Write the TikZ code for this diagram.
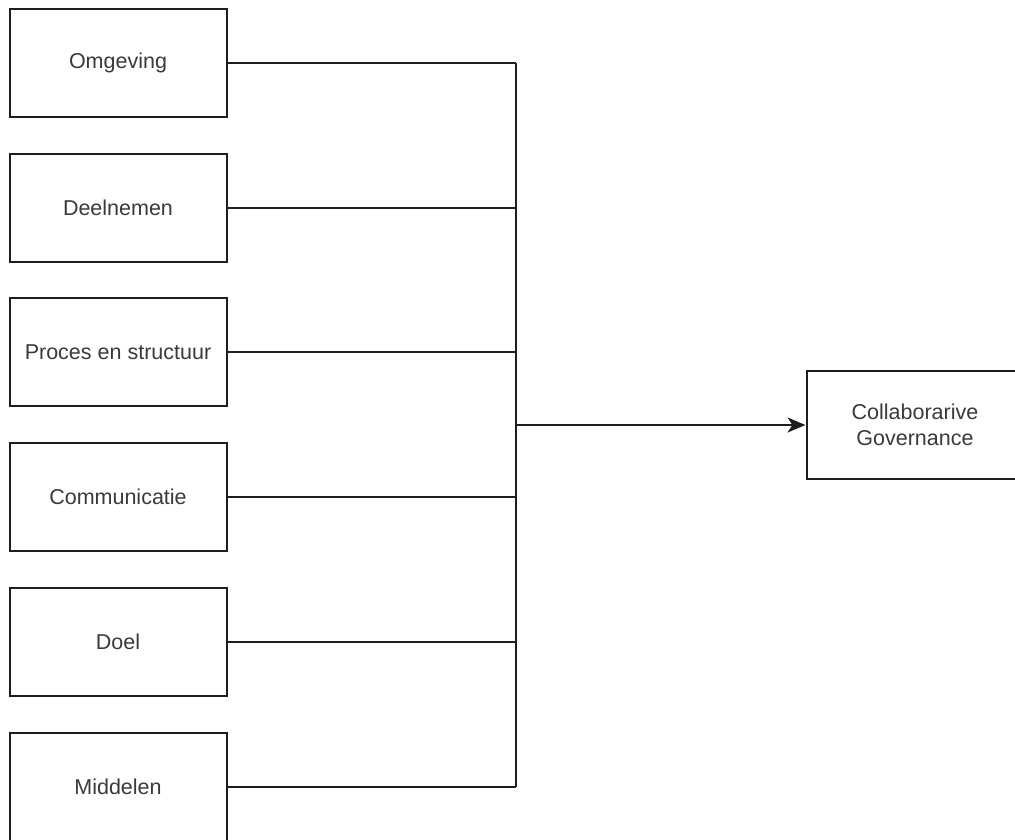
\documentclass[tikz,border=0pt]{standalone}
\usepackage{fontspec}
\setmainfont{Liberation Sans}
\usetikzlibrary{arrows.meta}
\definecolor{edge}{HTML}{1E1E1E}
\definecolor{txt}{HTML}{3A3A3A}
\begin{document}
\begin{tikzpicture}[x=1pt,y=-1pt,
  factor/.style={draw=edge, line width=2pt, minimum width=217pt, minimum height=108pt,
    inner sep=0pt, text=txt, font=\fontsize{21.5}{26}\selectfont, align=center, fill=white},
  link/.style={draw=edge, line width=2pt}]
\useasboundingbox (0,0) rectangle (1015,839);
\node[factor] (b1) at (118,63) {Omgeving};
\node[factor] (b2) at (118,208) {Deelnemen};
\node[factor] (b3) at (118,352) {Proces en structuur};
\node[factor] (b4) at (118,497) {Communicatie};
\node[factor] (b5) at (118,642) {Doel};
\node[factor] (b6) at (118,787) {Middelen};
\node[factor] (cg) at (915,425) {Collaborarive\\Governance};
\coordinate (j1) at (516,63);
\coordinate (j2) at (516,208);
\coordinate (j3) at (516,352);
\coordinate (j4) at (516,497);
\coordinate (j5) at (516,642);
\coordinate (j6) at (516,787);
\coordinate (jm) at (516,425);
\draw[link] (b1.east) -- (j1);
\draw[link] (b2.east) -- (j2);
\draw[link] (b3.east) -- (j3);
\draw[link] (b4.east) -- (j4);
\draw[link] (b5.east) -- (j5);
\draw[link] (b6.east) -- (j6);
\draw[link] (j1) -- (j6);
\draw[link, -{Stealth[length=18pt,width=15pt,inset=5pt]}] (jm) -- (cg.west);
\end{tikzpicture}
\end{document}
